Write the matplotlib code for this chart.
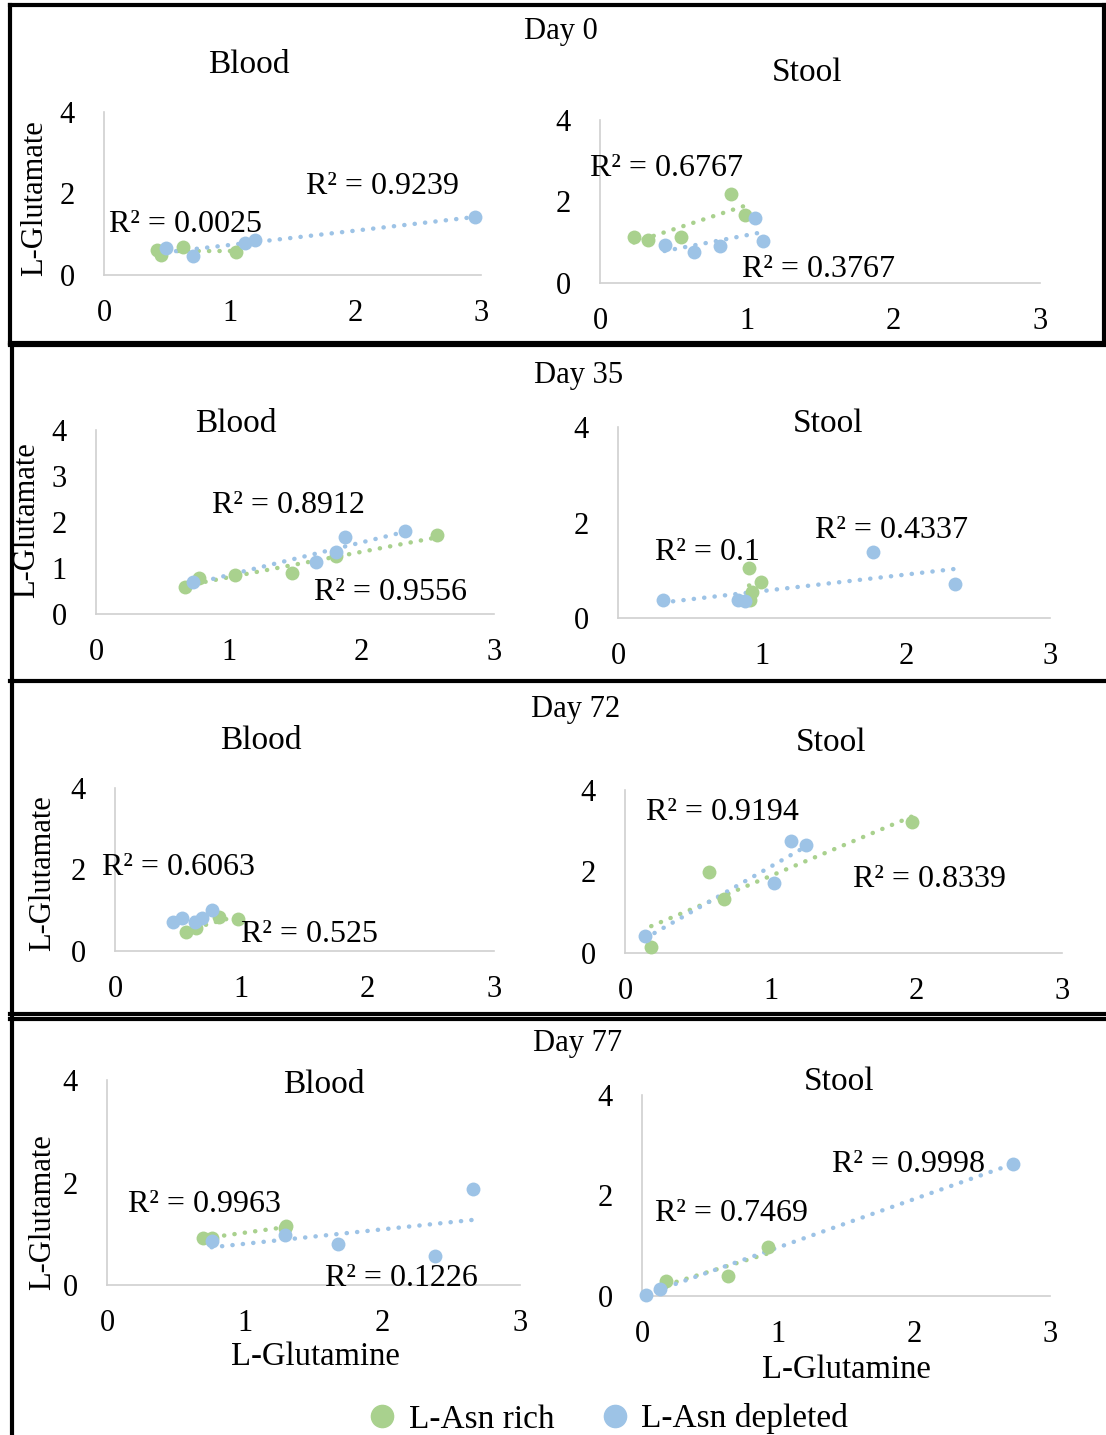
import numpy as np
import matplotlib
matplotlib.use("Agg")
from matplotlib import pyplot as plt
from matplotlib.lines import Line2D

plt.rcParams['font.family'] = ['Liberation Serif', 'DejaVu Serif']

W, H = 1106, 1435
GREEN = '#a9d18e'
BLUE = '#9dc3e6'

# ---- data (L-Glutamine, L-Glutamate) ----
d0_blood_rich_x = [0.42, 0.45, 0.63, 1.05]
d0_blood_rich_y = [0.61, 0.49, 0.69, 0.56]
d0_blood_depl_x = [0.49, 0.71, 1.12, 1.20, 2.95]
d0_blood_depl_y = [0.66, 0.47, 0.79, 0.86, 1.42]

d0_stool_rich_x = [0.23, 0.33, 0.55, 0.89, 0.99]
d0_stool_rich_y = [1.13, 1.06, 1.13, 2.18, 1.66]
d0_stool_depl_x = [0.44, 0.64, 0.82, 1.06, 1.11]
d0_stool_depl_y = [0.93, 0.76, 0.91, 1.60, 1.02]

d35_blood_rich_x = [0.67, 0.78, 1.05, 1.48, 1.81, 2.57]
d35_blood_rich_y = [0.59, 0.78, 0.85, 0.89, 1.26, 1.72]
d35_blood_depl_x = [0.73, 1.66, 1.81, 1.88, 2.33]
d35_blood_depl_y = [0.70, 1.13, 1.35, 1.67, 1.80]

d35_stool_rich_x = [0.91, 0.99, 0.93, 0.92]
d35_stool_rich_y = [1.05, 0.75, 0.54, 0.38]
d35_stool_depl_x = [0.31, 0.83, 0.88, 1.77, 2.34]
d35_stool_depl_y = [0.38, 0.38, 0.36, 1.38, 0.71]

d72_blood_rich_x = [0.56, 0.64, 0.82, 0.97]
d72_blood_rich_y = [0.47, 0.57, 0.84, 0.79]
d72_blood_depl_x = [0.46, 0.53, 0.63, 0.69, 0.77]
d72_blood_depl_y = [0.71, 0.81, 0.71, 0.81, 1.00]

d72_stool_rich_x = [0.18, 0.58, 0.68, 1.97]
d72_stool_rich_y = [0.15, 1.99, 1.33, 3.21]
d72_stool_depl_x = [0.14, 1.02, 1.14, 1.24]
d72_stool_depl_y = [0.42, 1.72, 2.75, 2.65]

d77_blood_rich_x = [0.70, 0.76, 1.29, 1.30]
d77_blood_rich_y = [0.92, 0.92, 1.11, 1.15]
d77_blood_depl_x = [0.76, 1.29, 1.68, 2.38, 2.66]
d77_blood_depl_y = [0.86, 0.98, 0.80, 0.57, 1.87]

d77_stool_rich_x = [0.18, 0.63, 0.93]
d77_stool_rich_y = [0.30, 0.40, 0.97]
d77_stool_depl_x = [0.03, 0.13, 2.73]
d77_stool_depl_y = [0.02, 0.14, 2.63]

panels = [
    # px: pixel x of 0, x of 3, y of 0, y of 4 ; r2: (text, x, y) in data units
    dict(px=(104, 481, 275, 112), yt=[0, 2, 4],
         rich=(d0_blood_rich_x, d0_blood_rich_y), depl=(d0_blood_depl_x, d0_blood_depl_y),
         r2=[("R² = 0.0025", 0.65, 1.25), ("R² = 0.9239", 2.22, 2.17)]),
    dict(px=(600, 1040, 283, 120), yt=[0, 2, 4],
         rich=(d0_stool_rich_x, d0_stool_rich_y), depl=(d0_stool_depl_x, d0_stool_depl_y),
         r2=[("R² = 0.6767", 0.45, 2.80), ("R² = 0.3767", 1.49, 0.32)]),
    dict(px=(96, 494, 614, 430), yt=[0, 1, 2, 3, 4],
         rich=(d35_blood_rich_x, d35_blood_rich_y), depl=(d35_blood_depl_x, d35_blood_depl_y),
         r2=[("R² = 0.8912", 1.45, 2.36), ("R² = 0.9556", 2.22, 0.47)]),
    dict(px=(618, 1050, 618, 427), yt=[0, 2, 4],
         rich=(d35_stool_rich_x, d35_stool_rich_y), depl=(d35_stool_depl_x, d35_stool_depl_y),
         r2=[("R² = 0.1", 0.62, 1.37), ("R² = 0.4337", 1.90, 1.83)]),
    dict(px=(115, 494, 951, 788), yt=[0, 2, 4],
         rich=(d72_blood_rich_x, d72_blood_rich_y), depl=(d72_blood_depl_x, d72_blood_depl_y),
         r2=[("R² = 0.6063", 0.50, 2.06), ("R² = 0.525", 1.54, 0.41)]),
    dict(px=(625, 1062, 953, 790), yt=[0, 2, 4],
         rich=(d72_stool_rich_x, d72_stool_rich_y), depl=(d72_stool_depl_x, d72_stool_depl_y),
         r2=[("R² = 0.9194", 0.67, 3.45), ("R² = 0.8339", 2.09, 1.81)]),
    dict(px=(107, 520, 1285, 1080), yt=[0, 2, 4],
         rich=(d77_blood_rich_x, d77_blood_rich_y), depl=(d77_blood_depl_x, d77_blood_depl_y),
         r2=[("R² = 0.9963", 0.71, 1.57), ("R² = 0.1226", 2.14, 0.13)]),
    dict(px=(642, 1050, 1296, 1095), yt=[0, 2, 4],
         rich=(d77_stool_rich_x, d77_stool_rich_y), depl=(d77_stool_depl_x, d77_stool_depl_y),
         r2=[("R² = 0.7469", 0.66, 1.64), ("R² = 0.9998", 1.96, 2.61)]),
]

fig = plt.figure(figsize=(W / 100, H / 100), dpi=100)

for p in panels:
    x0, x3, y0, y4 = p['px']
    ax = fig.add_axes([x0 / W, 1 - y0 / H, (x3 - x0) / W, (y0 - y4) / H])
    ax.set_xlim(0, 3)
    ax.set_ylim(0, 4)
    ax.set_xticks([0, 1, 2, 3])
    ax.set_yticks(p['yt'])
    ax.tick_params(length=0, labelsize=22)
    ax.tick_params(axis='x', pad=17)
    ax.tick_params(axis='y', pad=21)
    for s in ['top', 'right']:
        ax.spines[s].set_visible(False)
    for s in ['left', 'bottom']:
        ax.spines[s].set_color('#d0d0d0')
        ax.spines[s].set_linewidth(1.2)
    for (xs, ys), c in [(p['rich'], GREEN), (p['depl'], BLUE)]:
        xs = np.array(xs); ys = np.array(ys)
        m, b = np.polyfit(xs, ys, 1)
        xx = np.array([xs.min(), xs.max()])
        ax.plot(xx, m * xx + b, color=c, lw=3.2, ls=(0, (0.05, 2.3)),
                dash_capstyle='round', zorder=2)
        ax.scatter(xs, ys, s=100, color=c, zorder=3, clip_on=False, linewidths=0)
    for t, tx, ty in p['r2']:
        ax.text(tx, ty, t, fontsize=23, ha='center', va='center', zorder=4)

def ftext(x, y, s, **kw):
    fig.text(x / W, 1 - y / H, s, ha='center', va='center', **kw)

for x, y, s in [(561, 31, "Day 0"), (579, 375, "Day 35"), (576, 709, "Day 72"), (578, 1044, "Day 77")]:
    ftext(x, y, s, fontsize=22)
for x, y, s in [(249, 65, "Blood"), (807, 73, "Stool"), (236, 424, "Blood"), (828, 424, "Stool"),
                (261, 741, "Blood"), (831, 743, "Stool"), (324, 1085, "Blood"), (839, 1082, "Stool")]:
    ftext(x, y, s, fontsize=24)
for x, y in [(35, 198), (27, 520), (43, 873), (43, 1212)]:
    ftext(x, y, "L-Glutamate", fontsize=22, rotation=90)
ftext(315, 1357, "L-Glutamine", fontsize=23.5)
ftext(846, 1370, "L-Glutamine", fontsize=23.5)

handles = [Line2D([], [], ls='', marker='o', ms=16, color=GREEN, label='L-Asn rich'),
           Line2D([], [], ls='', marker='o', ms=16, color=BLUE, label='L-Asn depleted')]
fig.legend(handles=handles, loc='center', bbox_to_anchor=(607 / W, 1 - 1419 / H), ncol=2,
           frameon=False, fontsize=24, handletextpad=0.3, columnspacing=1.3, handlelength=1.0)

# section borders
def hline(y, x1=10, x2=1106, lw=3):
    fig.add_artist(Line2D([x1 / W, x2 / W], [1 - y / H, 1 - y / H], color='black', lw=lw))

def vline(x, y1, y2, lw=3):
    fig.add_artist(Line2D([x / W, x / W], [1 - y1 / H, 1 - y2 / H], color='black', lw=lw))

hline(5, 10, 1104)
vline(10, 5, 344)
vline(1104, 5, 344)
hline(343, 10, 1104)
hline(345)
vline(12, 345, 1435)
hline(681)
hline(1014)
hline(1019)

fig.savefig('out.png', dpi=100)
